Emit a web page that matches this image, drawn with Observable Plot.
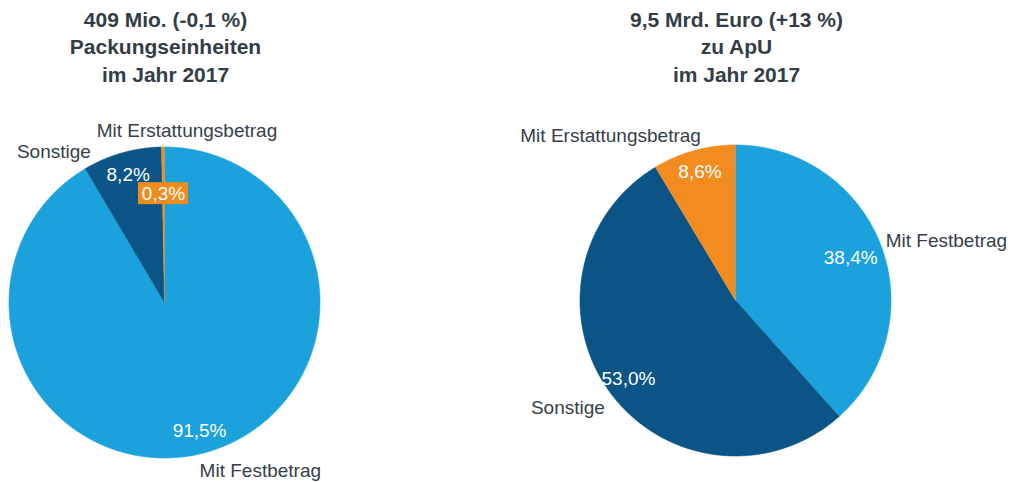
<!DOCTYPE html>
<html>
<head>
<meta charset="utf-8">
<script src="https://cdn.jsdelivr.net/npm/d3@7"></script>
<script src="https://cdn.jsdelivr.net/npm/@observablehq/plot@0.6"></script>
<style>
  html, body { margin: 0; padding: 0; background: #fff; }
  svg { display: block; }
</style>
</head>
<body>
<div id="chart"></div>
<script>
// ---- data ----
const categories = ["Mit Festbetrag", "Sonstige", "Mit Erstattungsbetrag"];
const packungenShares = [91.5, 8.2, 0.3];
const umsatzShares = [38.4, 53.0, 8.6];
const titlePackungen = ["409 Mio. (-0,1 %)", "Packungseinheiten", "im Jahr 2017"];
const titleUmsatz = ["9,5 Mrd. Euro (+13 %)", "zu ApU", "im Jahr 2017"];

// ---- styling / layout ----
const colors = {"Mit Festbetrag": "#1ba1db", "Sonstige": "#0a5486", "Mit Erstattungsbetrag": "#f28c1e"};
const W = 1024, H = 482, R = 155.5;
const pies = [
  {id: "packungen", cx: 164, cy: 302, shares: packungenShares, title: titlePackungen,
   nudge: {"Mit Festbetrag": [-9, 7, "start"], "Sonstige": [-28, 10, "end"], "Mit Erstattungsbetrag": [24, -4, "middle"]},
   pctNudge: {},
   innerLabel: {"Mit Erstattungsbetrag": 0.70}},
  {id: "umsatz", cx: 735, cy: 300, shares: umsatzShares, title: titleUmsatz,
   nudge: {"Mit Festbetrag": [-6, 0, "start"], "Sonstige": [4, 8, "end"], "Mit Erstattungsbetrag": [10, -3, "end"]},
   pctNudge: {"Mit Festbetrag": [-9, 5]},
   innerLabel: {}}
];

const fmt = v => v.toFixed(1).replace(".", ",") + "%";

const slicePts = [];
const pctLabels = [];
const boxLabels = [];
const outLabels = [];
const titles = [];

for (const p of pies) {
  const data = categories.map((c, i) => ({cat: c, value: p.shares[i]}));
  const arcs = d3.pie().sort(null).value(d => d.value)(data);
  for (const a of arcs) {
    const key = p.id + "-" + a.data.cat;
    const pt = (ang, r) => ({x: p.cx + r * Math.sin(ang), y: p.cy - r * Math.cos(ang)});
    slicePts.push({key, color: colors[a.data.cat], ...pt(0, 0)});
    const n = Math.max(2, Math.ceil((a.endAngle - a.startAngle) / 0.01));
    for (let k = 0; k <= n; k++) {
      const ang = a.startAngle + (a.endAngle - a.startAngle) * k / n;
      slicePts.push({key, color: colors[a.data.cat], ...pt(ang, R)});
    }
    const mid = (a.startAngle + a.endAngle) / 2;
    const fr = p.innerLabel[a.data.cat];
    if (fr) {
      boxLabels.push({text: fmt(a.data.value), color: colors[a.data.cat], ...pt(mid, fr * R)});
    } else {
      const q = pt(mid, 0.855 * R);
      const pn = p.pctNudge[a.data.cat] || [0, 0];
      pctLabels.push({text: fmt(a.data.value), x: q.x + pn[0], y: q.y + pn[1]});
    }
    const o = pt(mid, 1.075 * R);
    const nd = p.nudge[a.data.cat] || [0, 0, Math.sin(mid) >= 0 ? "start" : "end"];
    outLabels.push({text: a.data.cat, x: o.x + nd[0], y: o.y + nd[1], anchor: nd[2]});
  }
  titles.push({text: p.title.join("\n"), x: p.cx + 1, y: 45});
}

const textColor = "#36404a";
const anchors = ["start", "middle", "end"];

const chart = Plot.plot({
  width: W, height: H,
  margin: 0,
  x: {domain: [0, W], range: [0, W], axis: null},
  y: {domain: [0, H], range: [0, H], axis: null},
  style: {fontFamily: "Arial, 'Liberation Sans', sans-serif", background: "#fff"},
  marks: [
    Plot.line(slicePts, {x: "x", y: "y", z: "key", fill: "color", stroke: "color", strokeWidth: 0.6, curve: "linear"}),
    Plot.rect(boxLabels, {x1: d => d.x - 25, x2: d => d.x + 25, y1: d => d.y - 11, y2: d => d.y + 11, fill: "color"}),
    Plot.text(boxLabels, {x: "x", y: "y", text: "text", fill: "white", fontSize: 19}),
    Plot.text(pctLabels, {x: "x", y: "y", text: "text", fill: "white", fontSize: 19}),
    ...anchors.map(an => Plot.text(outLabels.filter(d => d.anchor === an), {x: "x", y: "y", text: "text", fill: textColor, fontSize: 19, textAnchor: an})),
    Plot.text(titles, {x: "x", y: "y", text: "text", fill: "#333d46", fontSize: 21, fontWeight: "bold", lineHeight: 1.3, lineAnchor: "middle"})
  ]
});
document.getElementById("chart").appendChild(chart);
</script>
</body>
</html>
